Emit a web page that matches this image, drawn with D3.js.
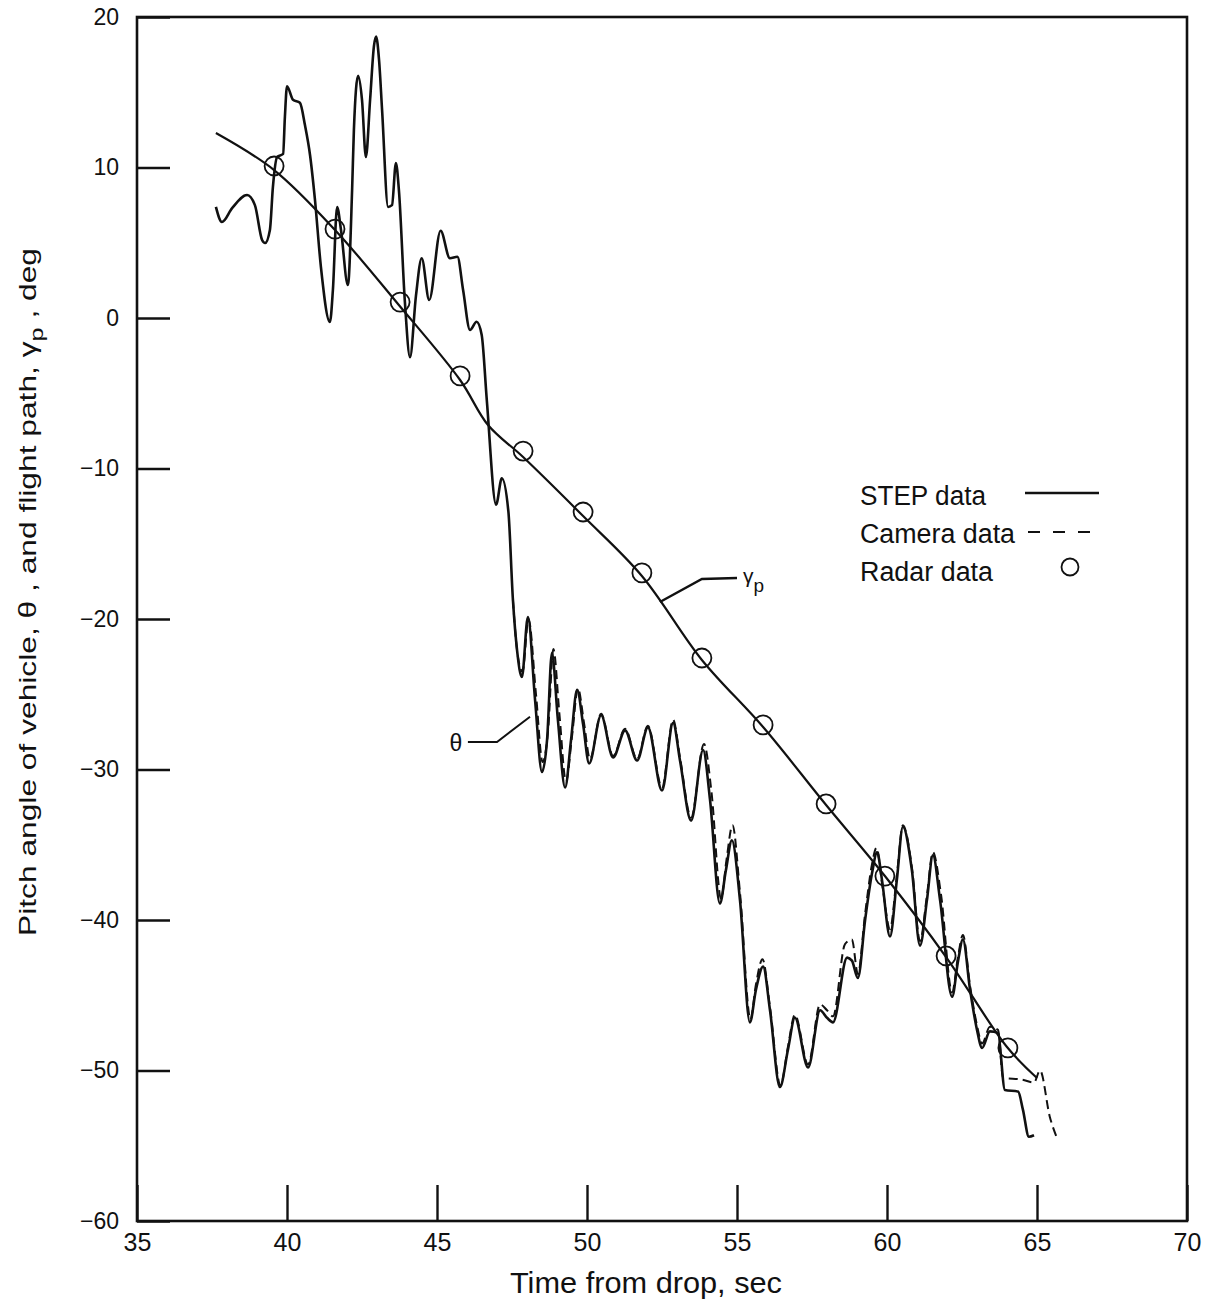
<!DOCTYPE html>
<html>
<head>
<meta charset="utf-8">
<script src="https://cdn.jsdelivr.net/npm/d3@7"></script>
<style>
  html, body { margin: 0; padding: 0; background: #fff; }
  svg { display: block; }
  text { font-family: "Liberation Sans", Arial, sans-serif; fill: #111; }
</style>
</head>
<body>
<div id="chart"></div>
<script>
// ---------------- data ----------------
const xTicks = [35, 40, 45, 50, 55, 60, 65, 70];
const yTicks = [20, 10, 0, -10, -20, -30, -40, -50, -60];

// STEP data: pitch angle theta (solid)
const stepTime = [37.63, 37.83, 38.17, 38.67, 38.93, 39.17, 39.27, 39.43, 39.53, 39.67, 39.87, 39.93, 40.0,
  40.2, 40.43, 40.6, 40.77, 40.93, 41.13, 41.43, 41.53, 41.67, 41.8, 42.03, 42.17, 42.23, 42.37, 42.5, 42.63,
  42.77, 42.9, 42.97, 43.07, 43.17, 43.37, 43.5, 43.63, 43.73, 43.93, 44.1, 44.3, 44.49, 44.74, 45.12, 45.43,
  45.68, 45.87, 46.1, 46.32, 46.49, 46.66, 46.97, 47.16, 47.38, 47.53, 47.67, 47.83, 48.03, 48.27, 48.5, 48.67,
  48.83, 49.03, 49.27, 49.47, 49.67, 49.87, 50.07, 50.47, 50.87, 51.27, 51.67, 52.03, 52.5, 52.87, 53.1, 53.47,
  53.87, 54.1, 54.43, 54.63, 54.83, 55.1, 55.43, 55.63, 55.87, 56.1, 56.43, 56.7, 56.93, 57.37, 57.77, 58.0,
  58.2, 58.67, 58.83, 59.03, 59.27, 59.5, 59.67, 59.83, 60.1, 60.33, 60.53, 60.83, 61.1, 61.33, 61.53, 61.77,
  62.17, 62.37, 62.53, 62.77, 63.0, 63.17, 63.43, 63.7, 63.93, 64.37, 64.53, 64.73, 64.9];
const stepTheta = [7.38, 6.38, 7.3, 8.17, 7.5, 5.18, 4.98, 5.85, 8.7, 10.7, 10.9, 13.36, 15.4,
  14.5, 14.3, 12.8, 10.8, 7.9, 3.4, -0.27, 1.86, 7.38, 5.85, 2.19, 8.5, 12.5, 16.1, 14.5, 10.7,
  14.5, 18.1, 18.7, 17.1, 13.8, 7.38, 7.5, 10.3, 8.5, 1.06, -2.6, 1.5, 3.97, 1.2, 5.8, 3.97,
  4.07, 1.86, -0.8, -0.25, -1.13, -5.45, -12.4, -10.65, -12.87, -18.7, -22.1, -23.85, -19.87, -25.4, -30.17, -28.0,
  -22.26, -26.7, -31.2, -28.0, -24.7, -27.0, -29.6, -26.4, -29.2, -27.4, -29.4, -27.2, -31.4, -26.9, -29.4, -33.4,
  -28.7, -32.0, -38.9, -36.7, -34.7, -38.7, -46.8, -44.65, -43.1, -46.0, -51.1, -48.6, -46.5, -49.8, -46.0, -46.5,
  -46.8, -42.5, -42.7, -43.85, -40.0, -36.9, -35.5, -37.3, -41.1, -37.3, -33.8, -36.7, -41.7, -38.7, -35.7, -38.7,
  -45.1, -42.7, -41.3, -44.65, -47.3, -48.5, -47.4, -47.5, -51.3, -51.4, -52.6, -54.4, -54.3];

// Camera data: pitch angle theta (dashed)
const cameraTime = [47.53, 47.67, 47.85, 48.05, 48.3, 48.52, 48.7, 48.88, 49.08, 49.3, 49.5, 49.7, 49.9, 50.1,
  50.47, 50.87, 51.27, 51.67, 52.03, 52.5, 52.87, 53.1, 53.47, 53.9, 54.15, 54.47, 54.65, 54.85, 55.1, 55.45,
  55.63, 55.85, 56.1, 56.45, 56.7, 56.93, 57.37, 57.77, 58.0, 58.2, 58.6, 58.83, 59.03, 59.27, 59.5, 59.65,
  59.85, 60.1, 60.33, 60.53, 60.83, 61.1, 61.33, 61.53, 61.8, 62.17, 62.37, 62.53, 62.77, 63.0, 63.17, 63.43,
  63.7, 63.87, 64.5, 64.9, 65.1, 65.43, 65.67];
const cameraTheta = [-18.7, -22.1, -23.5, -20.0, -25.0, -29.5, -27.5, -22.0, -26.3, -30.8, -27.8, -24.6, -26.9, -29.3,
  -26.3, -29.1, -27.3, -29.3, -27.1, -31.2, -26.7, -29.2, -33.2, -28.3, -31.5, -38.6, -36.0, -33.7, -38.2, -46.6,
  -44.3, -42.6, -45.8, -51.0, -48.4, -46.3, -49.6, -45.6, -46.0, -46.4, -41.6, -41.3, -43.6, -39.6, -36.3, -35.2,
  -37.8, -40.6, -37.0, -33.7, -36.5, -41.4, -38.4, -35.5, -38.3, -44.8, -42.4, -41.0, -44.4, -47.0, -48.2, -47.1,
  -47.3, -50.5, -50.6, -50.8, -50.0, -53.1, -54.5];

// Flight path angle gamma_p (solid, smooth)
const gammaTime = [37.63, 39.57, 41.6, 43.7, 45.77, 46.7, 47.87, 49.87, 51.83, 53.83, 55.87, 57.97, 59.93, 61.97, 64.0, 65.0];
const gammaAngle = [12.29, 9.83, 5.85, 0.93, -4.12, -7.11, -9.24, -13.16, -17.14, -22.72, -27.18, -32.36, -37.08, -42.46, -48.44, -50.5];

// Radar data (circles)
const radarTime = [39.57, 41.6, 43.77, 45.77, 47.87, 49.87, 51.83, 53.83, 55.87, 57.97, 59.93, 61.97, 64.03];
const radarAngle = [10.1, 5.91, 1.06, -3.85, -8.84, -12.89, -16.94, -22.59, -27.04, -32.29, -37.08, -42.39, -48.5];

// annotation leaders (data units)
const thetaLeaderTime = [46.03, 47.0, 48.1];
const thetaLeaderAngle = [-28.17, -28.17, -26.5];
const gammaLeaderTime = [52.43, 53.83, 55.0];
const gammaLeaderAngle = [-18.87, -17.34, -17.28];

const legendLabels = ["STEP data", "Camera data", "Radar data"];

// ---------------- chart ----------------
const W = 1210, H = 1301;
const svg = d3.select("#chart").append("svg").attr("width", W).attr("height", H);

const x = d3.scaleLinear().domain([35, 70]).range([137, 1187]);
const y = d3.scaleLinear().domain([-60, 20]).range([1221, 17]);

const ink = "#111";

// axes (ticks point inward, labels outside)
const xAxis = d3.axisBottom(x).tickValues(xTicks).tickSize(-36).tickPadding(12).tickFormat(d3.format("d"));
const gx = svg.append("g").attr("transform", `translate(0,${y(-60)})`).call(xAxis);
gx.select(".domain").remove();
gx.selectAll(".tick line").attr("stroke", ink).attr("stroke-width", 2.4);
gx.selectAll(".tick text").attr("font-size", 25).attr("fill", ink)
  .attr("font-family", '"Liberation Sans", Arial, sans-serif');

const yAxis = d3.axisLeft(y).tickValues(yTicks).tickSize(-33).tickPadding(18)
  .tickFormat(d => d < 0 ? "\u2212" + Math.abs(d) : String(d));
const gy = svg.append("g").attr("transform", `translate(${x(35)},0)`).call(yAxis);
gy.select(".domain").remove();
gy.selectAll(".tick line").attr("stroke", ink).attr("stroke-width", 2.4);
gy.selectAll(".tick text").attr("font-size", 23).attr("fill", ink)
  .attr("font-family", '"Liberation Sans", Arial, sans-serif');

// frame
svg.append("rect")
  .attr("x", x(35)).attr("y", y(20))
  .attr("width", x(70) - x(35)).attr("height", y(-60) - y(20))
  .attr("fill", "none").attr("stroke", ink).attr("stroke-width", 2.6);

// lines
const stepData = stepTime.map((t, i) => [t, stepTheta[i]]);
const camData = cameraTime.map((t, i) => [t, cameraTheta[i]]);
const gammaData = gammaTime.map((t, i) => [t, gammaAngle[i]]);

const lineSharp = d3.line().x(d => x(d[0])).y(d => y(d[1])).curve(d3.curveMonotoneX);
const lineSmooth = d3.line().x(d => x(d[0])).y(d => y(d[1])).curve(d3.curveCatmullRom.alpha(0.5));
const lineStraight = d3.line().x(d => x(d[0])).y(d => y(d[1]));

svg.append("path").datum(camData).attr("d", lineSharp)
  .attr("fill", "none").attr("stroke", ink).attr("stroke-width", 2)
  .attr("stroke-dasharray", "9,5");

svg.append("path").datum(stepData).attr("d", lineSharp)
  .attr("fill", "none").attr("stroke", ink).attr("stroke-width", 2.6)
  .attr("stroke-linejoin", "round");

svg.append("path").datum(gammaData).attr("d", lineSmooth)
  .attr("fill", "none").attr("stroke", ink).attr("stroke-width", 2.2);

// radar circles
svg.append("g").selectAll("circle")
  .data(radarTime.map((t, i) => [t, radarAngle[i]]))
  .join("circle")
  .attr("cx", d => x(d[0])).attr("cy", d => y(d[1])).attr("r", 9.5)
  .attr("fill", "none").attr("stroke", ink).attr("stroke-width", 1.8);

// annotations
svg.append("path").datum(thetaLeaderTime.map((t, i) => [t, thetaLeaderAngle[i]]))
  .attr("d", lineStraight).attr("fill", "none").attr("stroke", ink).attr("stroke-width", 2);
svg.append("text").attr("x", x(45.63)).attr("y", y(-28.2)).attr("dy", "0.36em")
  .attr("text-anchor", "middle").attr("font-size", 23).text("\u03B8");

svg.append("path").datum(gammaLeaderTime.map((t, i) => [t, gammaLeaderAngle[i]]))
  .attr("d", lineStraight).attr("fill", "none").attr("stroke", ink).attr("stroke-width", 2.4);
const gl = svg.append("text").attr("x", x(55.2)).attr("y", y(-17.6)).attr("font-size", 21);
gl.append("tspan").text("\u03B3");
gl.append("tspan").attr("dy", 9).attr("font-size", 19).text("p");

// legend
const legX = 860, legY = [505, 543, 581];
const legLen = [126, 155, 133];
legendLabels.forEach((lab, i) => {
  svg.append("text").attr("x", legX).attr("y", legY[i]).attr("font-size", 27)
    .attr("textLength", legLen[i]).attr("lengthAdjust", "spacingAndGlyphs").text(lab);
});
svg.append("line").attr("x1", 1025).attr("x2", 1099).attr("y1", 493).attr("y2", 493)
  .attr("stroke", ink).attr("stroke-width", 2.4);
svg.append("line").attr("x1", 1028).attr("x2", 1103).attr("y1", 532).attr("y2", 532)
  .attr("stroke", ink).attr("stroke-width", 2).attr("stroke-dasharray", "12,13");
svg.append("circle").attr("cx", 1070).attr("cy", 567).attr("r", 8.5)
  .attr("fill", "none").attr("stroke", ink).attr("stroke-width", 1.8);

// axis titles
svg.append("text").attr("x", 646).attr("y", 1293).attr("text-anchor", "middle")
  .attr("font-size", 29).attr("textLength", 272).attr("lengthAdjust", "spacingAndGlyphs")
  .text("Time from drop, sec");

const yt = svg.append("text")
  .attr("transform", "translate(36,592) rotate(-90)")
  .attr("x", 0).attr("y", 0).attr("text-anchor", "middle")
  .attr("font-size", 24).attr("textLength", 688).attr("lengthAdjust", "spacingAndGlyphs");
yt.append("tspan").text("Pitch angle of vehicle, \u03B8 , and flight path, \u03B3");
yt.append("tspan").attr("dy", 7).attr("font-size", 19).text("p");
yt.append("tspan").attr("dy", -7).text(" , deg");
</script>
</body>
</html>
